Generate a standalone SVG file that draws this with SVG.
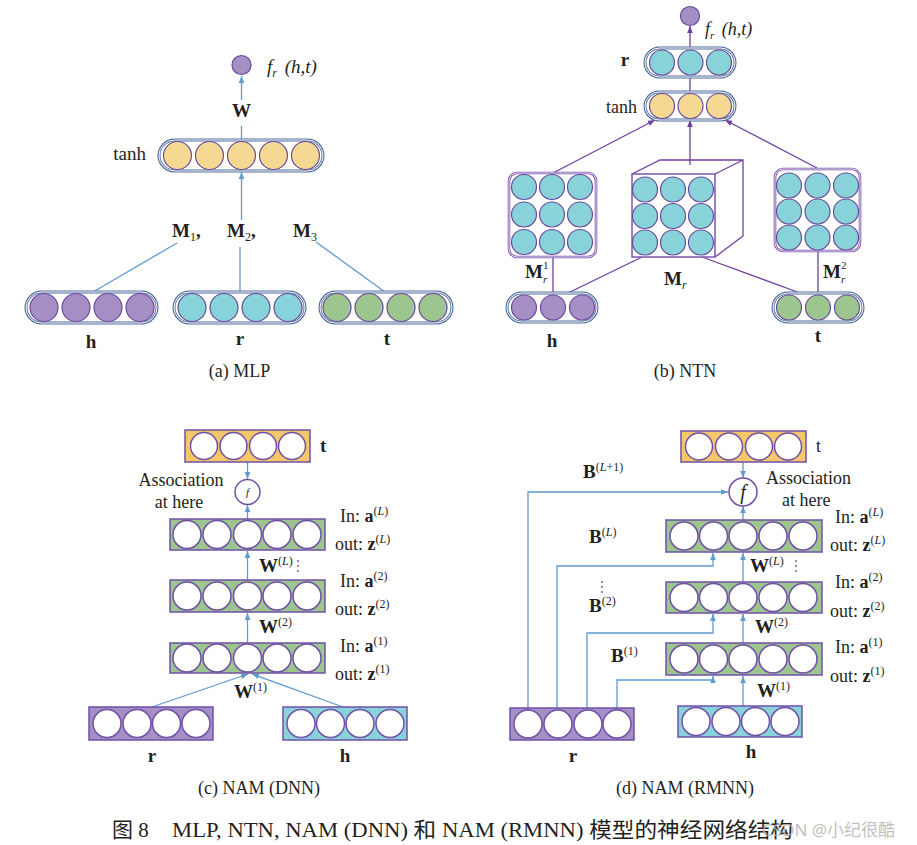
<svg xmlns="http://www.w3.org/2000/svg" width="917" height="845" viewBox="0 0 917 845">
<style>
text{font-family:"Liberation Serif","Noto Sans CJK SC",serif;fill:#231f20}
.b{font-weight:bold}
.it{font-style:italic}
.lab{font-size:18px}
.bl{font-size:19px;font-weight:bold}
.sup{font-size:12px;font-weight:normal}
.sm{font-size:11px;font-weight:normal}
.cap{font-size:18px;text-anchor:middle}
.dblo{fill:#fff;stroke:#4f6d9c;stroke-width:3}
.dbli{fill:none;stroke:#fff;stroke-width:1}
.mo{fill:#fff;stroke:#7b55b0;stroke-width:2.6}
.mi{fill:none;stroke:#fff;stroke-width:0.8}
.cy{fill:#88d3da;stroke:#6a4a9c;stroke-width:1.2}
.pu{fill:#a58fc4;stroke:#6a4a9c;stroke-width:1.2}
.ye{fill:#f5d993;stroke:#6a4a9c;stroke-width:1.2}
.gr{fill:#9dc58e;stroke:#6a4a9c;stroke-width:1.2}
.wc{fill:#fff;stroke:#7050a8;stroke-width:1.5}
.bar{stroke:#7050a8;stroke-width:1.5}
.ln{fill:none;stroke:#5d9bd3;stroke-width:1.3}
.pl{fill:none;stroke:#7040a0;stroke-width:1.3}
.dots{fill:#9050a0}
</style>
<defs>
<marker id="ab" viewBox="0 0 10 10" refX="10" refY="5" markerWidth="7" markerHeight="7" markerUnits="userSpaceOnUse" orient="auto"><path d="M0,1 L10,5 L0,9 z" fill="#5d9bd3"/></marker>
<marker id="ap" viewBox="0 0 10 10" refX="10" refY="5" markerWidth="7" markerHeight="7" markerUnits="userSpaceOnUse" orient="auto"><path d="M0,1 L10,5 L0,9 z" fill="#7040a0"/></marker>
</defs>

<!-- ===== Panel (a) MLP ===== -->
<g id="a-connectors">
<line class="ln" x1="241.5" y1="140" x2="241.5" y2="126"/>
<line class="ln" x1="241.5" y1="100" x2="241.5" y2="76" marker-end="url(#ab)"/>
<line class="ln" x1="241.5" y1="220" x2="241.5" y2="172" marker-end="url(#ab)"/>
<line class="ln" x1="177" y1="243" x2="93" y2="292"/>
<line class="ln" x1="240" y1="247" x2="240" y2="292"/>
<line class="ln" x1="316" y1="242" x2="385" y2="292"/>
</g>
<g id="a-out">
<circle class="pu" cx="241.5" cy="65" r="9.5"/>
<text x="267" y="73" class="it" font-size="19">f<tspan font-size="12" dy="4">r</tspan><tspan dy="-4" dx="3"> (h,t)</tspan></text>
</g>
<text x="241.5" y="117" class="bl" text-anchor="middle" font-size="20">W</text>
<g id="a-tanh">
<rect class="dblo" x="159" y="140" width="164" height="31" rx="15.5"/>
<rect class="dbli" x="159" y="140" width="164" height="31" rx="15.5"/>
<circle class="ye" cx="177.5" cy="155.5" r="14"/><circle class="ye" cx="209.5" cy="155.5" r="14"/><circle class="ye" cx="241.5" cy="155.5" r="14"/><circle class="ye" cx="273.5" cy="155.5" r="14"/><circle class="ye" cx="305.5" cy="155.5" r="14"/>
<text x="146" y="160" font-size="19" text-anchor="end">tanh</text>
</g>
<text x="172" y="237" class="bl" font-size="20">M<tspan class="sup" dy="4">1</tspan><tspan dy="-4">,</tspan></text>
<text x="227" y="237" class="bl" font-size="20">M<tspan class="sup" dy="4">2</tspan><tspan dy="-4">,</tspan></text>
<text x="293" y="237" class="bl" font-size="20">M<tspan class="sup" dy="4">3</tspan></text>
<g id="a-h">
<rect class="dblo" x="26" y="292" width="131" height="31" rx="15.5"/>
<rect class="dbli" x="26" y="292" width="131" height="31" rx="15.5"/>
<circle class="pu" cx="44" cy="307.5" r="14"/><circle class="pu" cx="76" cy="307.5" r="14"/><circle class="pu" cx="108" cy="307.5" r="14"/><circle class="pu" cx="140" cy="307.5" r="14"/>
<text x="91" y="348" class="bl" text-anchor="middle">h</text>
</g>
<g id="a-r">
<rect class="dblo" x="174" y="292" width="131" height="31" rx="15.5"/>
<rect class="dbli" x="174" y="292" width="131" height="31" rx="15.5"/>
<circle class="cy" cx="192" cy="307.5" r="14"/><circle class="cy" cx="224" cy="307.5" r="14"/><circle class="cy" cx="256" cy="307.5" r="14"/><circle class="cy" cx="288" cy="307.5" r="14"/>
<text x="240" y="345" class="bl" text-anchor="middle">r</text>
</g>
<g id="a-t">
<rect class="dblo" x="320" y="292" width="132" height="31" rx="15.5"/>
<rect class="dbli" x="320" y="292" width="132" height="31" rx="15.5"/>
<circle class="gr" cx="337" cy="307.5" r="14"/><circle class="gr" cx="369" cy="307.5" r="14"/><circle class="gr" cx="401" cy="307.5" r="14"/><circle class="gr" cx="433" cy="307.5" r="14"/>
<text x="387" y="345" class="bl" text-anchor="middle">t</text>
</g>
<text x="239.5" y="377" class="cap">(a) MLP</text>

<!-- ===== Panel (b) NTN ===== -->
<g id="b-connectors">
<line class="pl" x1="690" y1="48" x2="690" y2="26" marker-end="url(#ap)"/>
<line class="pl" x1="690" y1="77" x2="690" y2="92"/>
<line class="pl" x1="553" y1="173" x2="655" y2="120" marker-end="url(#ap)"/>
<line class="pl" x1="690" y1="165" x2="690" y2="120" marker-end="url(#ap)"/>
<line class="pl" x1="817" y1="168" x2="725" y2="120" marker-end="url(#ap)"/>
<line class="pl" x1="553" y1="257" x2="553" y2="293"/>
<line class="pl" x1="568" y1="293" x2="642" y2="257"/>
<line class="pl" x1="702" y1="257" x2="800" y2="293"/>
<line class="pl" x1="818" y1="251" x2="818" y2="293"/>
</g>
<g id="b-out">
<circle class="pu" cx="690" cy="16" r="9.5"/>
<text x="705" y="35" class="it" font-size="18">f<tspan font-size="11" dy="4">r</tspan><tspan dy="-4" dx="3"> (h,t)</tspan></text>
</g>
<g id="b-r">
<rect class="dblo" x="645" y="48" width="90" height="29" rx="14.5"/>
<rect class="dbli" x="645" y="48" width="90" height="29" rx="14.5"/>
<circle class="cy" cx="662" cy="62.5" r="12.5"/><circle class="cy" cx="690.5" cy="62.5" r="12.5"/><circle class="cy" cx="719" cy="62.5" r="12.5"/>
<text x="625" y="66" class="bl" text-anchor="middle">r</text>
</g>
<g id="b-tanh">
<rect class="dblo" x="645" y="92" width="90" height="28" rx="14"/>
<rect class="dbli" x="645" y="92" width="90" height="28" rx="14"/>
<circle class="ye" cx="662" cy="106" r="12.5"/><circle class="ye" cx="690.5" cy="106" r="12.5"/><circle class="ye" cx="719" cy="106" r="12.5"/>
<text x="637" y="113" font-size="18" text-anchor="end">tanh</text>
</g>
<g id="b-m1">
<rect class="mo" x="509" y="173" width="87" height="84" rx="8"/>
<rect class="mi" x="509" y="173" width="87" height="84" rx="8"/>
<circle class="cy" cx="524" cy="187" r="12.5"/><circle class="cy" cx="552" cy="187" r="12.5"/><circle class="cy" cx="580" cy="187" r="12.5"/>
<circle class="cy" cx="524" cy="214.5" r="12.5"/><circle class="cy" cx="552" cy="214.5" r="12.5"/><circle class="cy" cx="580" cy="214.5" r="12.5"/>
<circle class="cy" cx="524" cy="242" r="12.5"/><circle class="cy" cx="552" cy="242" r="12.5"/><circle class="cy" cx="580" cy="242" r="12.5"/>
</g>
<g id="b-cube">
<path class="pl" d="M632,174 L660,160 L743,160 L743,236 L715,257 M715,174 L743,160" stroke-width="1.5"/>
<rect x="632" y="174" width="83" height="83" fill="#fff" stroke="#7b55b0" stroke-width="1.5"/>
<circle class="cy" cx="645" cy="189.5" r="12.5"/><circle class="cy" cx="673" cy="189.5" r="12.5"/><circle class="cy" cx="701" cy="189.5" r="12.5"/>
<circle class="cy" cx="645" cy="216" r="12.5"/><circle class="cy" cx="673" cy="216" r="12.5"/><circle class="cy" cx="701" cy="216" r="12.5"/>
<circle class="cy" cx="645" cy="242.5" r="12.5"/><circle class="cy" cx="673" cy="242.5" r="12.5"/><circle class="cy" cx="701" cy="242.5" r="12.5"/>
</g>
<g id="b-m2">
<rect class="mo" x="775" y="169" width="85" height="82" rx="8"/>
<rect class="mi" x="775" y="169" width="85" height="82" rx="8"/>
<circle class="cy" cx="789" cy="185.5" r="12.5"/><circle class="cy" cx="817.5" cy="185.5" r="12.5"/><circle class="cy" cx="846" cy="185.5" r="12.5"/>
<circle class="cy" cx="789" cy="211.5" r="12.5"/><circle class="cy" cx="817.5" cy="211.5" r="12.5"/><circle class="cy" cx="846" cy="211.5" r="12.5"/>
<circle class="cy" cx="789" cy="237.5" r="12.5"/><circle class="cy" cx="817.5" cy="237.5" r="12.5"/><circle class="cy" cx="846" cy="237.5" r="12.5"/>
</g>
<text x="525" y="278" class="bl">M</text>
<text x="543" y="269" class="sm">1</text>
<text x="543" y="283" class="sm it">r</text>
<text x="664" y="285" class="bl">M<tspan class="sup it" dy="4">r</tspan></text>
<text x="823" y="278" class="bl">M</text>
<text x="841" y="269" class="sm">2</text>
<text x="841" y="283" class="sm it">r</text>
<g id="b-h">
<rect class="dblo" x="507" y="293" width="90" height="29" rx="14.5"/>
<rect class="dbli" x="507" y="293" width="90" height="29" rx="14.5"/>
<circle class="pu" cx="524" cy="307.5" r="12.5"/><circle class="pu" cx="553" cy="307.5" r="12.5"/><circle class="pu" cx="582" cy="307.5" r="12.5"/>
<text x="552" y="347" class="bl" text-anchor="middle">h</text>
</g>
<g id="b-t">
<rect class="dblo" x="773" y="293" width="90" height="29" rx="14.5"/>
<rect class="dbli" x="773" y="293" width="90" height="29" rx="14.5"/>
<circle class="gr" cx="789" cy="307.5" r="12.5"/><circle class="gr" cx="818" cy="307.5" r="12.5"/><circle class="gr" cx="847" cy="307.5" r="12.5"/>
<text x="818" y="342" class="bl" text-anchor="middle">t</text>
</g>
<text x="685" y="377" class="cap">(b) NTN</text>

<!-- ===== Panel (c) NAM (DNN) ===== -->
<g id="c-connectors">
<line class="ln" x1="247.5" y1="462" x2="247.5" y2="479" marker-end="url(#ab)"/>
<line class="ln" x1="247.5" y1="519" x2="247.5" y2="505" marker-end="url(#ab)"/>
<line class="ln" x1="247.5" y1="580" x2="247.5" y2="551" marker-end="url(#ab)"/>
<line class="ln" x1="247.5" y1="643" x2="247.5" y2="613" marker-end="url(#ab)"/>
<line class="ln" x1="152" y1="707" x2="248" y2="674" marker-end="url(#ab)"/>
<line class="ln" x1="343" y1="707" x2="252" y2="674" marker-end="url(#ab)"/>
</g>
<g id="c-t">
<rect class="bar" fill="#f5c76b" x="185" y="430" width="125" height="32"/>
<circle class="wc" cx="204" cy="446" r="13.5"/><circle class="wc" cx="233.5" cy="446" r="13.5"/><circle class="wc" cx="263" cy="446" r="13.5"/><circle class="wc" cx="292" cy="446" r="13.5"/>
<text x="320" y="452" class="bl">t</text>
</g>
<g id="c-f">
<circle class="wc" cx="247.5" cy="492" r="12.5"/>
<text x="247.5" y="496" class="it" font-size="11" text-anchor="middle">f</text>
</g>
<text x="181" y="486" class="lab" text-anchor="middle">Association</text>
<text x="179" y="508" class="lab" text-anchor="middle">at here</text>
<g id="c-L">
<rect class="bar" fill="#9dc58e" x="170" y="519" width="155" height="31"/>
<circle class="wc" cx="187" cy="534.5" r="14"/><circle class="wc" cx="217" cy="534.5" r="14"/><circle class="wc" cx="247.5" cy="534.5" r="14"/><circle class="wc" cx="277" cy="534.5" r="14"/><circle class="wc" cx="307" cy="534.5" r="14"/>
</g>
<g id="c-2">
<rect class="bar" fill="#9dc58e" x="170" y="580" width="155" height="32"/>
<circle class="wc" cx="187" cy="596" r="14"/><circle class="wc" cx="217" cy="596" r="14"/><circle class="wc" cx="247.5" cy="596" r="14"/><circle class="wc" cx="277" cy="596" r="14"/><circle class="wc" cx="307" cy="596" r="14"/>
</g>
<g id="c-1">
<rect class="bar" fill="#9dc58e" x="170" y="643" width="155" height="30"/>
<circle class="wc" cx="187" cy="658" r="14"/><circle class="wc" cx="217" cy="658" r="14"/><circle class="wc" cx="247.5" cy="658" r="14"/><circle class="wc" cx="277" cy="658" r="14"/><circle class="wc" cx="307" cy="658" r="14"/>
</g>
<text x="340" y="522" class="lab">In: <tspan class="b">a</tspan><tspan class="sup" dy="-7">(<tspan class="it">L</tspan>)</tspan></text>
<text x="335" y="550" class="lab">out: <tspan class="b">z</tspan><tspan class="sup" dy="-7">(<tspan class="it">L</tspan>)</tspan></text>
<text x="340" y="587" class="lab">In: <tspan class="b">a</tspan><tspan class="sup" dy="-7">(2)</tspan></text>
<text x="335" y="615" class="lab">out: <tspan class="b">z</tspan><tspan class="sup" dy="-7">(2)</tspan></text>
<text x="340" y="652" class="lab">In: <tspan class="b">a</tspan><tspan class="sup" dy="-7">(1)</tspan></text>
<text x="335" y="680" class="lab">out: <tspan class="b">z</tspan><tspan class="sup" dy="-7">(1)</tspan></text>
<text x="259" y="572" class="bl">W<tspan class="sup" dy="-7">(<tspan class="it">L</tspan>)</tspan></text>
<g class="dots"><circle cx="298" cy="561" r="1"/><circle cx="298" cy="566" r="1"/><circle cx="298" cy="571" r="1"/></g>
<text x="259" y="633" class="bl">W<tspan class="sup" dy="-7">(2)</tspan></text>
<text x="234" y="698" class="bl">W<tspan class="sup" dy="-7">(1)</tspan></text>
<g id="c-r">
<rect class="bar" fill="#a58fc4" x="89" y="707" width="124" height="33"/>
<circle class="wc" cx="107" cy="723.5" r="14"/><circle class="wc" cx="137" cy="723.5" r="14"/><circle class="wc" cx="166.5" cy="723.5" r="14"/><circle class="wc" cx="196" cy="723.5" r="14"/>
<text x="152" y="762" class="bl" text-anchor="middle">r</text>
</g>
<g id="c-h">
<rect class="bar" fill="#88d3da" x="283" y="707" width="124" height="33"/>
<circle class="wc" cx="301" cy="723.5" r="14"/><circle class="wc" cx="330.5" cy="723.5" r="14"/><circle class="wc" cx="360" cy="723.5" r="14"/><circle class="wc" cx="390" cy="723.5" r="14"/>
<text x="345" y="762" class="bl" text-anchor="middle">h</text>
</g>
<text x="259" y="794" class="cap">(c) NAM (DNN)</text>

<!-- ===== Panel (d) NAM (RMNN) ===== -->
<g id="d-connectors">
<line class="ln" x1="743" y1="462" x2="743" y2="478" marker-end="url(#ab)"/>
<line class="ln" x1="743" y1="520" x2="743" y2="506" marker-end="url(#ab)"/>
<line class="ln" x1="743" y1="582" x2="743" y2="553" marker-end="url(#ab)"/>
<line class="ln" x1="743" y1="643" x2="743" y2="614" marker-end="url(#ab)"/>
<line class="ln" x1="743" y1="706" x2="743" y2="676" marker-end="url(#ab)"/>
<polyline class="ln" points="528,708 528,492 728,492" marker-end="url(#ab)"/>
<polyline class="ln" points="557,708 557,566 713,566 713,553" marker-end="url(#ab)"/>
<polyline class="ln" points="587,708 587,633 713,633 713,614" marker-end="url(#ab)"/>
<polyline class="ln" points="617,708 617,680 713,680 713,676" marker-end="url(#ab)"/>
</g>
<g id="d-t">
<rect class="bar" fill="#f5c76b" x="681" y="431" width="125" height="31"/>
<circle class="wc" cx="699" cy="446.5" r="13.5"/><circle class="wc" cx="729" cy="446.5" r="13.5"/><circle class="wc" cx="759" cy="446.5" r="13.5"/><circle class="wc" cx="788" cy="446.5" r="13.5"/>
<text x="816" y="452" class="lab">t</text>
</g>
<g id="d-f">
<circle class="wc" cx="743" cy="492" r="14"/>
<text x="743" y="499" class="it" font-size="20" text-anchor="middle">f</text>
</g>
<text x="766" y="484" class="lab">Association</text>
<text x="782" y="506" class="lab">at here</text>
<text x="583" y="478" class="bl">B<tspan class="sup" dy="-7">(<tspan class="it">L</tspan>+1)</tspan></text>
<g id="d-L">
<rect class="bar" fill="#9dc58e" x="666" y="520" width="156" height="32"/>
<circle class="wc" cx="684" cy="536" r="14"/><circle class="wc" cx="713.5" cy="536" r="14"/><circle class="wc" cx="743" cy="536" r="14"/><circle class="wc" cx="773" cy="536" r="14"/><circle class="wc" cx="803" cy="536" r="14"/>
</g>
<g id="d-2">
<rect class="bar" fill="#9dc58e" x="666" y="582" width="156" height="31"/>
<circle class="wc" cx="684" cy="597.5" r="14"/><circle class="wc" cx="713.5" cy="597.5" r="14"/><circle class="wc" cx="743" cy="597.5" r="14"/><circle class="wc" cx="773" cy="597.5" r="14"/><circle class="wc" cx="803" cy="597.5" r="14"/>
</g>
<g id="d-1">
<rect class="bar" fill="#9dc58e" x="666" y="643" width="156" height="32"/>
<circle class="wc" cx="684" cy="659" r="14"/><circle class="wc" cx="713.5" cy="659" r="14"/><circle class="wc" cx="743" cy="659" r="14"/><circle class="wc" cx="773" cy="659" r="14"/><circle class="wc" cx="803" cy="659" r="14"/>
</g>
<text x="835" y="523" class="lab">In: <tspan class="b">a</tspan><tspan class="sup" dy="-7">(<tspan class="it">L</tspan>)</tspan></text>
<text x="830" y="551" class="lab">out: <tspan class="b">z</tspan><tspan class="sup" dy="-7">(<tspan class="it">L</tspan>)</tspan></text>
<text x="835" y="588" class="lab">In: <tspan class="b">a</tspan><tspan class="sup" dy="-7">(2)</tspan></text>
<text x="830" y="617" class="lab">out: <tspan class="b">z</tspan><tspan class="sup" dy="-7">(2)</tspan></text>
<text x="835" y="653" class="lab">In: <tspan class="b">a</tspan><tspan class="sup" dy="-7">(1)</tspan></text>
<text x="830" y="682" class="lab">out: <tspan class="b">z</tspan><tspan class="sup" dy="-7">(1)</tspan></text>
<text x="589" y="543" class="bl">B<tspan class="sup" dy="-7">(<tspan class="it">L</tspan>)</tspan></text>
<text x="750" y="572" class="bl">W<tspan class="sup" dy="-7">(<tspan class="it">L</tspan>)</tspan></text>
<g class="dots"><circle cx="796" cy="561" r="1"/><circle cx="796" cy="566" r="1"/><circle cx="796" cy="571" r="1"/></g>
<g class="dots"><circle cx="602" cy="582" r="1"/><circle cx="602" cy="587" r="1"/><circle cx="602" cy="592" r="1"/></g>
<text x="589" y="612" class="bl">B<tspan class="sup" dy="-7">(2)</tspan></text>
<text x="755" y="633" class="bl">W<tspan class="sup" dy="-7">(2)</tspan></text>
<text x="611" y="662" class="bl">B<tspan class="sup" dy="-7">(1)</tspan></text>
<text x="757" y="697" class="bl">W<tspan class="sup" dy="-7">(1)</tspan></text>
<g id="d-r">
<rect class="bar" fill="#a58fc4" x="510" y="708" width="124" height="32"/>
<circle class="wc" cx="528" cy="724" r="14"/><circle class="wc" cx="558" cy="724" r="14"/><circle class="wc" cx="588" cy="724" r="14"/><circle class="wc" cx="617" cy="724" r="14"/>
<text x="573" y="762" class="bl" text-anchor="middle">r</text>
</g>
<g id="d-h">
<rect class="bar" fill="#88d3da" x="678" y="706" width="124" height="31"/>
<circle class="wc" cx="696" cy="721.5" r="14"/><circle class="wc" cx="726" cy="721.5" r="14"/><circle class="wc" cx="755.5" cy="721.5" r="14"/><circle class="wc" cx="785" cy="721.5" r="14"/>
<text x="751" y="758" class="bl" text-anchor="middle">h</text>
</g>
<text x="685" y="794" class="cap">(d) NAM (RMNN)</text>

<!-- caption -->
<text x="112" y="837" font-size="21">图 8</text>
<text x="172" y="837" font-size="21" textLength="621" lengthAdjust="spacingAndGlyphs">MLP, NTN, NAM (DNN) 和 NAM (RMNN) 模型的神经网络结构</text>
<text x="762" y="836" font-size="17" style="font-family:'Noto Sans','Noto Sans CJK SC',sans-serif;fill:#b4b4b4" fill-opacity="0.85">CSDN @小纪很酷</text>
</svg>
